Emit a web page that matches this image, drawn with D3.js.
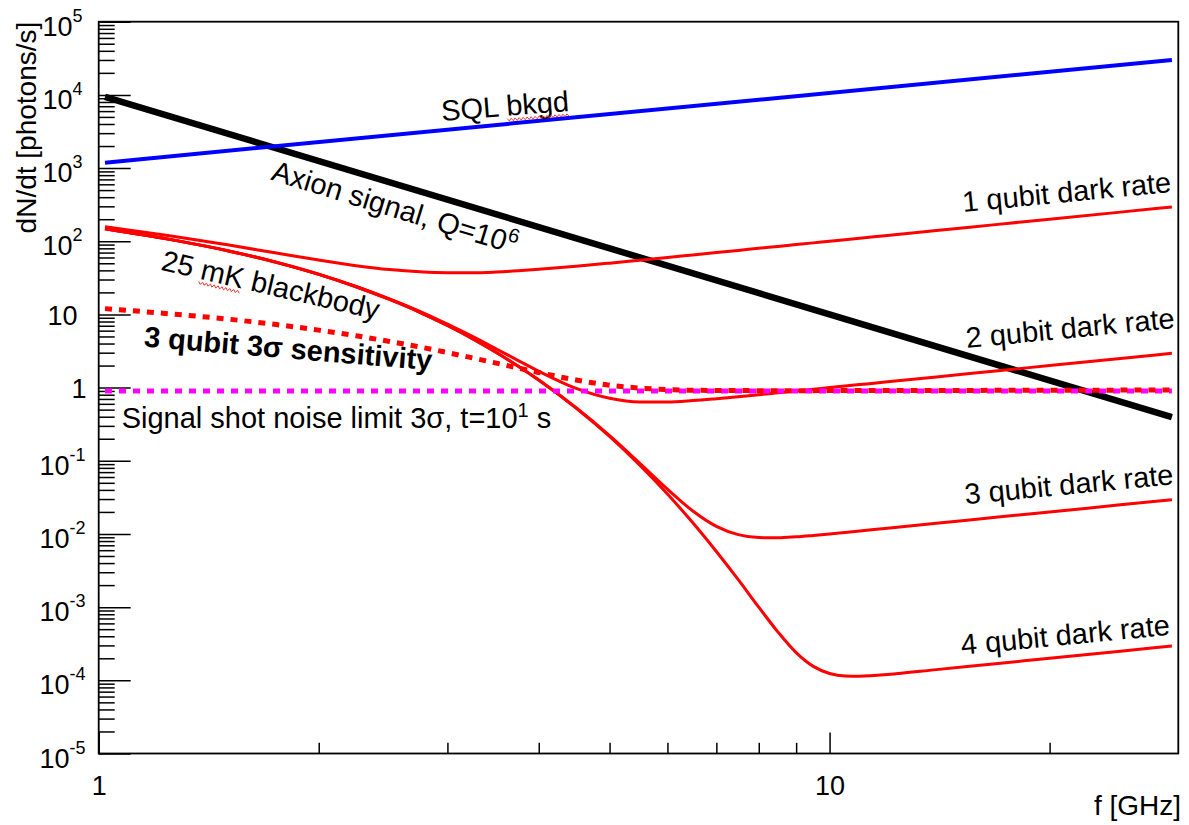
<!DOCTYPE html>
<html>
<head>
<meta charset="utf-8">
<script src="https://cdn.jsdelivr.net/npm/d3@7"></script>
<style>
  body { margin: 0; background: #fff; }
  svg { display: block; font-family: "Liberation Sans", Arial, Helvetica, sans-serif; }
</style>
</head>
<body>
<div id="chart-container"></div>
<script>
// frequency grid [GHz] shared by the dark rate curves
const freq = [1.02, 1.25, 1.5, 1.75, 2, 2.25, 2.5, 2.75, 3, 3.25, 3.5, 3.75, 4, 4.5, 5, 5.5,
              6, 6.5, 7, 7.5, 8, 8.5, 9, 9.5, 10, 10.5, 11, 11.5, 12, 14, 17, 20, 25, 29.4];

// dark rates [photons/s]
const darkRate1 = [158, 118.5, 89.3, 69.0, 55.3, 46.4, 41.0, 38.2, 37.1, 37.1, 38.0, 39.5, 41.3, 45.5, 50.2, 55.1,
                   60.0, 65.0, 70.0, 75.0, 80, 85, 90, 95, 100, 105, 110, 115, 120, 140, 170, 200, 250, 294];
const darkRate2 = [148, 106, 74.5, 51.7, 35.5, 24.1, 16.3, 11.0, 7.35, 4.96, 3.37, 2.34, 1.67, 0.975, 0.715, 0.637,
                   0.635, 0.664, 0.706, 0.752, 0.801, 0.85, 0.90, 0.95, 1.0, 1.05, 1.1, 1.15, 1.2, 1.4, 1.7, 2.0, 2.5, 2.94];
const darkRate3 = [148, 106, 74.3, 51.5, 35.3, 23.9, 16.0, 10.7, 7.05, 4.63, 3.02, 1.96, 1.27, 0.530, 0.220, 0.0923,
                   0.0410, 0.0206, 0.0127, 0.00979, 0.00892, 0.00887, 0.00915, 0.00956, 0.0100, 0.0105, 0.0110, 0.0115, 0.0120,
                   0.0140, 0.0170, 0.0200, 0.0250, 0.0294];
const darkRate4 = [148, 106, 74.3, 51.5, 35.3, 23.9, 16.0, 10.7, 7.05, 4.63, 3.02, 1.96, 1.27, 0.525, 0.215, 0.0868,
                   0.0351, 0.0142, 0.00575, 0.00237, 0.00100, 4.56e-4, 2.39e-4, 1.55e-4, 1.24e-4, 1.147e-4, 1.14e-4, 1.166e-4, 1.2e-4,
                   1.4e-4, 1.7e-4, 2.0e-4, 2.5e-4, 2.94e-4];

// 3 qubit 3 sigma sensitivity (dashed)
const sensitivity3q = [12.0, 10.2, 8.64, 7.27, 6.10, 5.11, 4.27, 3.59, 3.01, 2.54, 2.16, 1.85, 1.61, 1.27, 1.08, 0.985,
                       0.939, 0.920, 0.913, 0.910, 0.909, 0.909, 0.909, 0.909, 0.910, 0.910, 0.911, 0.912, 0.912,
                       0.914, 0.917, 0.920, 0.924, 0.928];

// straight lines (power laws) only need their end points
const lineFreq = [1.02, 29.4];
const sqlBkgd = [1186, 30000];
const axionSignal = [9420, 0.394];
const shotNoiseLimit = [0.9, 0.9];

// axis ticks
const yMajorTicks = [1e-5, 1e-4, 1e-3, 1e-2, 1e-1, 1, 10, 1e2, 1e3, 1e4, 1e5];
const yTickLabels = ["10^-5", "10^-4", "10^-3", "10^-2", "10^-1", "1", "10", "10^2", "10^3", "10^4", "10^5"];
const xMajorTicks = [1, 10];
const xTickLabels = ["1", "10"];
const xMinorTicks = [2, 3, 4, 5, 6, 7, 8, 9, 20];

const width = 1189, height = 825;
const margin = {top: 21.7, right: 10.7, bottom: 71.5, left: 98.7};

const svg = d3.select("#chart-container").append("svg")
    .attr("width", width)
    .attr("height", height);

svg.append("rect").attr("width", width).attr("height", height).attr("fill", "#fff");

const x = d3.scaleLog().domain([1, 30]).range([margin.left, width - margin.right]);
const y = d3.scaleLog().domain([1e-5, 1e5]).range([height - margin.bottom, margin.top]);

// minor y ticks 2..9 per decade
const yMinorTicks = [];
for (let e = -5; e < 5; e++) {
    for (let m = 2; m <= 9; m++) yMinorTicks.push(m * Math.pow(10, e));
}

// ---- axes
const yMinorAxis = svg.append("g")
    .attr("transform", `translate(${margin.left},0)`)
    .call(d3.axisLeft(y).tickValues(yMinorTicks).tickSize(-16).tickFormat(""));
const yAxis = svg.append("g")
    .attr("transform", `translate(${margin.left},0)`)
    .call(d3.axisLeft(y).tickValues(yMajorTicks).tickSize(-32));
const xMinorAxis = svg.append("g")
    .attr("transform", `translate(0,${height - margin.bottom})`)
    .call(d3.axisBottom(x).tickValues(xMinorTicks).tickSize(-10.7).tickFormat(""));
const xAxis = svg.append("g")
    .attr("transform", `translate(0,${height - margin.bottom})`)
    .call(d3.axisBottom(x).tickValues(xMajorTicks).tickSize(-21).tickPadding(22)
        .tickFormat((d, i) => xTickLabels[i]));

[yMinorAxis, yAxis, xMinorAxis, xAxis].forEach(g => {
    g.select(".domain").remove();
    g.attr("font-family", null).attr("font-size", 27);
    g.selectAll("line").attr("stroke", "#000").attr("stroke-width", 1.5);
    g.selectAll("text").attr("fill", "#000");
});

// y labels as 10 with a superscript exponent
yAxis.selectAll("text").each(function(d, i) {
    const t = d3.select(this);
    const parts = yTickLabels[i].split("^");
    t.text(null).attr("dy", null).attr("text-anchor", "middle");
    t.append("tspan").text(parts[0]);
    if (parts.length > 1) {
        t.attr("x", 62.5 - margin.left).attr("y", 13.6);
        t.append("tspan").attr("dy", -14).attr("font-size", 18).text(parts[1]);
    } else {
        t.attr("x", (parts[0] === "1" ? 79 : 62.5) - margin.left).attr("y", 10.3);
    }
});

// frame
svg.append("rect")
    .attr("x", margin.left).attr("y", margin.top)
    .attr("width", width - margin.left - margin.right)
    .attr("height", height - margin.top - margin.bottom)
    .attr("fill", "none").attr("stroke", "#000").attr("stroke-width", 1.8);

// axis titles
svg.append("text")
    .attr("transform", `translate(36,${margin.top}) rotate(-90)`)
    .attr("text-anchor", "end")
    .attr("font-size", 28)
    .text("dN/dt [photons/s]");
svg.append("text")
    .attr("x", 1181).attr("y", 815)
    .attr("text-anchor", "end")
    .attr("font-size", 28)
    .text("f [GHz]");

// ---- curves
const line = d3.line()
    .x(d => x(d[0]))
    .y(d => y(d[1]))
    .curve(d3.curveMonotoneX);

const series = [
    {f: lineFreq, v: axionSignal, color: "#000", w: 6.5},
    {f: lineFreq, v: sqlBkgd, color: "#0000ff", w: 4},
    {f: freq, v: darkRate1, color: "#ff0000", w: 3},
    {f: freq, v: darkRate2, color: "#ff0000", w: 3},
    {f: freq, v: darkRate3, color: "#ff0000", w: 3},
    {f: freq, v: darkRate4, color: "#ff0000", w: 3},
    {f: lineFreq, v: shotNoiseLimit, color: "#ff00ff", w: 5, dash: "7,7"},
    {f: freq, v: sensitivity3q, color: "#ff0000", w: 5, dash: "7,7"}
];

svg.append("g").selectAll("path")
    .data(series)
    .enter().append("path")
    .attr("d", s => line(d3.zip(s.f, s.v)))
    .attr("fill", "none")
    .attr("stroke", s => s.color)
    .attr("stroke-width", s => s.w)
    .attr("stroke-dasharray", s => s.dash || null);

// ---- annotations, anchored in data coordinates
const labels = [
    {f: 2.95, v: 4400, angle: -4.5, anchor: "start", parts: [{t: "SQL bkgd"}], squiggle: "bkgd"},
    {f: 2.52, v: 215, angle: 17, anchor: "middle", parts: [{t: "Axion signal, Q=10"}, {t: "6", sup: true}]},
    {f: 1.707, v: 18.6, angle: 13, anchor: "middle", parts: [{t: "25 mK blackbody"}], squiggle: "mK"},
    {f: 1.812, v: 2.51, angle: 4.7, anchor: "middle", bold: true, parts: [{t: "3 qubit 3σ sensitivity"}]},
    {f: 1.075, v: 0.279, angle: 0, anchor: "start", parts: [{t: "Signal shot noise limit 3σ, t=10"}, {t: "1", sup: true}, {t: " s"}]},
    {f: 29.4, v: 472, angle: -5.5, anchor: "end", parts: [{t: "1 qubit dark rate"}]},
    {f: 29.72, v: 6.54, angle: -5.5, anchor: "end", parts: [{t: "2 qubit dark rate"}]},
    {f: 29.6, v: 0.0479, angle: -5.5, anchor: "end", parts: [{t: "3 qubit dark rate"}]},
    {f: 29.27, v: 4.19e-4, angle: -5.5, anchor: "end", parts: [{t: "4 qubit dark rate"}]}
];

labels.forEach(l => {
    const g = svg.append("g")
        .attr("transform", `translate(${x(l.f)},${y(l.v)}) rotate(${l.angle})`);
    const text = g.append("text")
        .attr("text-anchor", l.anchor)
        .attr("font-size", 29)
        .attr("font-weight", l.bold ? "bold" : null);
    let raised = false;
    l.parts.forEach(p => {
        const ts = text.append("tspan").text(p.t);
        if (p.sup) { ts.attr("dy", -11).attr("font-size", 20); raised = true; }
        else if (raised) { ts.attr("dy", 11); raised = false; }
    });
    // red spell-check squiggle seen under some words
    if (l.squiggle) {
        const node = text.node();
        const full = node.textContent;
        const total = node.getComputedTextLength();
        const idx = full.indexOf(l.squiggle);
        let x0 = node.getSubStringLength(0, idx);
        if (l.anchor === "middle") x0 -= total / 2;
        const len = node.getSubStringLength(idx, l.squiggle.length);
        const pts = [];
        for (let k = 0; k <= len; k += 2) pts.push([x0 + k, 4 + ((k / 2) % 2 ? 1.3 : -1.3)]);
        g.append("path")
            .attr("d", d3.line()(pts))
            .attr("fill", "none")
            .attr("stroke", "#e8322a")
            .attr("stroke-width", 0.9);
    }
});
</script>
</body>
</html>
